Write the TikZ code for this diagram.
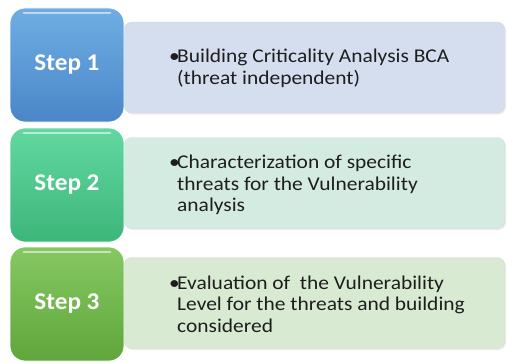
\documentclass[tikz,border=0pt]{standalone}
\usepackage{fontspec}
\setmainfont{Carlito}
\newfontfamily\bodyfont[FakeStretch=1.1]{Carlito}
\newfontfamily\stepfont[FakeStretch=1.05]{Carlito}
\usetikzlibrary{shadows}
\definecolor{boneT}{HTML}{6FAEE4}
\definecolor{boneB}{HTML}{4A86C8}
\definecolor{btwoT}{HTML}{62D8A0}
\definecolor{btwoB}{HTML}{3DB67A}
\definecolor{bthrT}{HTML}{86C862}
\definecolor{bthrB}{HTML}{5FA63C}
\definecolor{tone}{HTML}{D5DEEF}
\definecolor{ttwo}{HTML}{D4EBE1}
\definecolor{tthr}{HTML}{D8EAD2}
\definecolor{txt}{HTML}{1E1E1E}
\tikzset{
  stepbox/.style={rounded corners=15pt, minimum width=114pt, minimum height=114pt,
    inner sep=0pt, text=white, font=\stepfont\fontsize{24}{28}\selectfont\bfseries,
    draw=white, line width=0.8pt},
  textbox/.style={rounded corners=8pt, minimum width=381pt, minimum height=91pt,
    inner sep=0pt, draw=white!85!black, line width=0.4pt,
    drop shadow={shadow xshift=1pt, shadow yshift=-1.5pt, opacity=0.15}},
  bullettext/.style={anchor=west, inner sep=0pt, text=txt,
    font=\bodyfont\fontsize{19.5}{21.5}\selectfont}
}
\newcommand{\btext}[1]{\makebox[8pt][l]{\textbullet}\parbox[t]{320pt}{\raggedright #1}}
\begin{document}
\begin{tikzpicture}[x=1pt,y=-1pt]
\useasboundingbox (0,0) rectangle (508,361);
% text boxes
\node[textbox, fill=tone] (t1) at (314.5,67.5) {};
\node[textbox, fill=ttwo] (t2) at (314.5,183) {};
\node[textbox, fill=tthr] (t3) at (314.5,303) {};
% step boxes
\node[stepbox, top color=boneT, bottom color=boneB] (s1) at (67,65) {Step 1};
\node[stepbox, top color=btwoT, bottom color=btwoB] (s2) at (67,185) {Step 2};
\node[stepbox, top color=bthrT, bottom color=bthrB] (s3) at (67,304) {Step 3};
% glossy highlights
\foreach \n in {s1,s2,s3}{
  \draw[white, opacity=0.55, line width=2pt, line cap=round]
    ([xshift=14pt,yshift=-5pt]\n.north west) -- ([xshift=-14pt,yshift=-5pt]\n.north east);
}
% texts
\node[bullettext] (x1) at (169,68.5) {\btext{Building Criticality Analysis BCA\\ (threat independent)}};
\node[bullettext] (x2) at (169,185) {\btext{Characterization of specific\\ threats for the Vulnerability\\ analysis}};
\node[bullettext] (x3) at (169,304) {\btext{Evaluation of\ \ the Vulnerability\\ Level for the threats and building\\ considered}};
\end{tikzpicture}
\end{document}
